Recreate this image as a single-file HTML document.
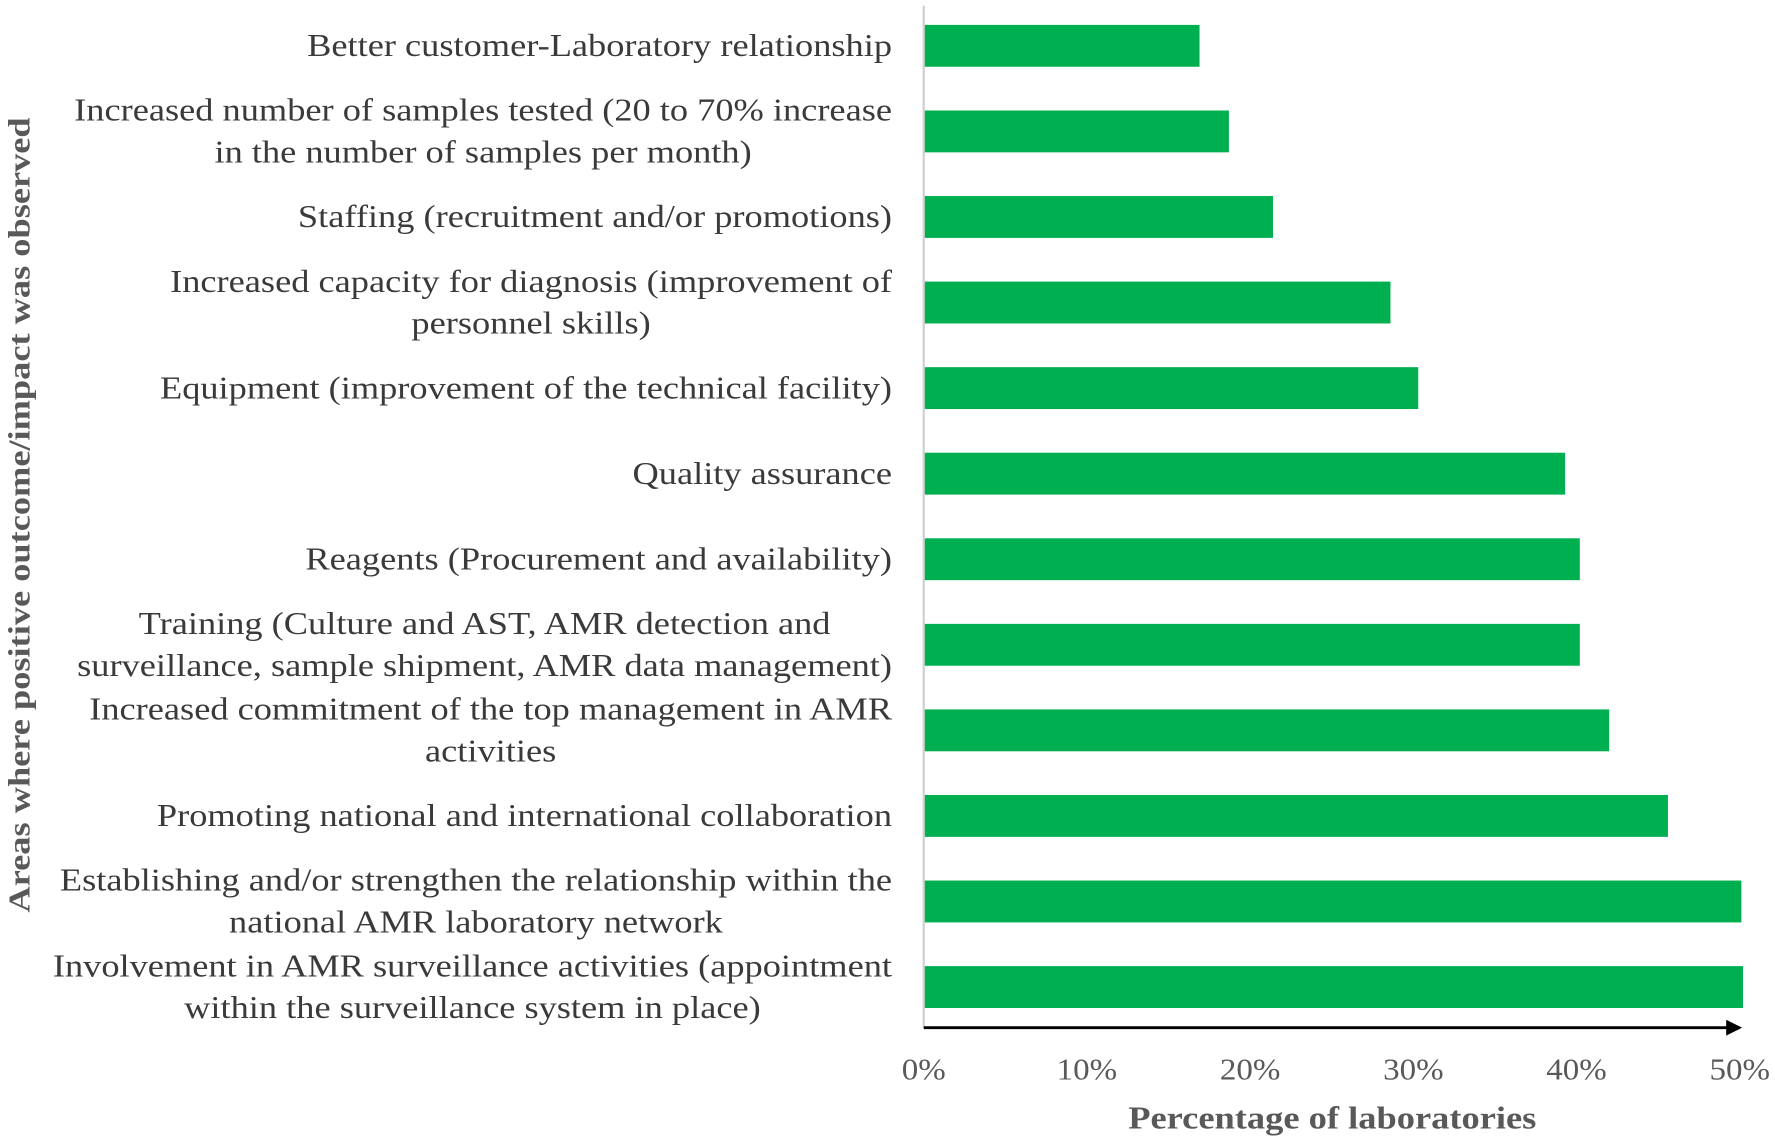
<!DOCTYPE html>
<html><head><meta charset="utf-8">
<style>
html,body{margin:0;padding:0;background:#fff;}
svg{display:block;}
text{font-family:"Liberation Serif",serif;fill:#3a3a3a;}
</style></head>
<body>
<svg id="chart" width="1775" height="1142" viewBox="0 0 1568 1009" xmlns="http://www.w3.org/2000/svg">
<defs><marker id="arr" markerWidth="14" markerHeight="14" refX="12" refY="7" orient="auto" markerUnits="userSpaceOnUse"><path d="M0,0 L14,7 L0,14 z" fill="#000"/></marker></defs>
<g id="bars"></g>
<g id="labels"></g>
<line x1="816" y1="5" x2="816" y2="908" stroke="#d0d0d0" stroke-width="2"/>
<line x1="816" y1="908" x2="1537" y2="908" stroke="#000" stroke-width="2.5" marker-end="url(#arr)"/>
<g id="ticks"></g>
<text id="xt" x="1177" y="997" text-anchor="middle" font-size="28" font-weight="bold" style="fill:#595959">Percentage of laboratories</text>
<text id="yt" transform="translate(26,455) rotate(-90)" text-anchor="middle" font-size="27" font-weight="bold" style="fill:#595959">Areas where positive outcome/impact was observed</text>
</svg>
<script>
const categories = [
 ["Better customer-Laboratory relationship"],
 ["Increased number of samples tested (20 to 70% increase","in the number of samples per month)"],
 ["Staffing (recruitment and/or promotions)"],
 ["Increased capacity for diagnosis (improvement of","personnel skills)"],
 ["Equipment (improvement of the technical facility)"],
 ["Quality assurance"],
 ["Reagents (Procurement and availability) "],
 ["Training (Culture and AST, AMR detection and","surveillance, sample shipment, AMR data management)"],
 ["Increased commitment of the top management in AMR","activities"],
 ["Promoting national and international collaboration"],
 ["Establishing and/or strengthen the relationship within the","national AMR laboratory network"],
 ["Involvement in AMR surveillance activities (appointment","within the surveillance system in place)"]
];
const values = [16.9, 18.7, 21.4, 28.6, 30.3, 39.3, 40.2, 40.2, 42.0, 45.6, 50.1, 50.2];
const tickValues = [0, 10, 20, 30, 40, 50];
const tickLabels = ["0%", "10%", "20%", "30%", "40%", "50%"];

const NS = "http://www.w3.org/2000/svg";
const SX = 1.19;
const x0 = 816, x1 = 1537, xMax = 50;
const xScale = v => x0 + (x1 - x0) * v / xMax;
const yTop = 22, step = 75.6, barH = 37;
const yScale = i => yTop + i * step;
function stretch(el, f) {
  const w = el.getComputedTextLength();
  el.setAttribute('textLength', w * f);
  el.setAttribute('lengthAdjust', 'spacingAndGlyphs');
  return w * f;
}

const bars = document.getElementById('bars');
const labels = document.getElementById('labels');
values.forEach((v, i) => {
  const r = document.createElementNS(NS, 'rect');
  
  
  r.setAttribute('x', x0);
  r.setAttribute('y', yScale(i));
  r.setAttribute('width', xScale(v) - x0);
  r.setAttribute('height', barH);
  r.setAttribute('fill', '#00b050');
  bars.appendChild(r);
});
categories.forEach((lines, i) => {
  const cy = yScale(i) + barH / 2;
  const g = document.createElementNS(NS, 'g');
  
  
  labels.appendChild(g);
  const els = [];
  const n = lines.length;
  lines.forEach((t, k) => {
    const tx = document.createElementNS(NS, 'text');
    tx.setAttribute('font-size', '28');
    tx.setAttribute('text-anchor', 'middle');
    tx.setAttribute('y', cy + 9 + (k - (n - 1) / 2) * 37);
    tx.textContent = t;
    g.appendChild(tx);
    els.push(tx);
  });
  let maxW = 0;
  els.forEach(e => { maxW = Math.max(maxW, stretch(e, SX * 27 / 28)); });
  els.forEach(e => e.setAttribute('x', 788 - maxW / 2));
});
const ticks = document.getElementById('ticks');
tickValues.forEach((v, i) => {
  const t = document.createElementNS(NS, 'text');
  
  
  t.setAttribute('x', xScale(v));
  t.setAttribute('y', 954);
  t.setAttribute('text-anchor', 'middle');
  t.setAttribute('font-size', '27');
  t.setAttribute('style', 'fill:#595959');
  t.textContent = tickLabels[i];
  ticks.appendChild(t);
  stretch(t, 1.08);
});
stretch(document.getElementById('xt'), 1.15);
stretch(document.getElementById('yt'), 1.19);
</script>
</body></html>
